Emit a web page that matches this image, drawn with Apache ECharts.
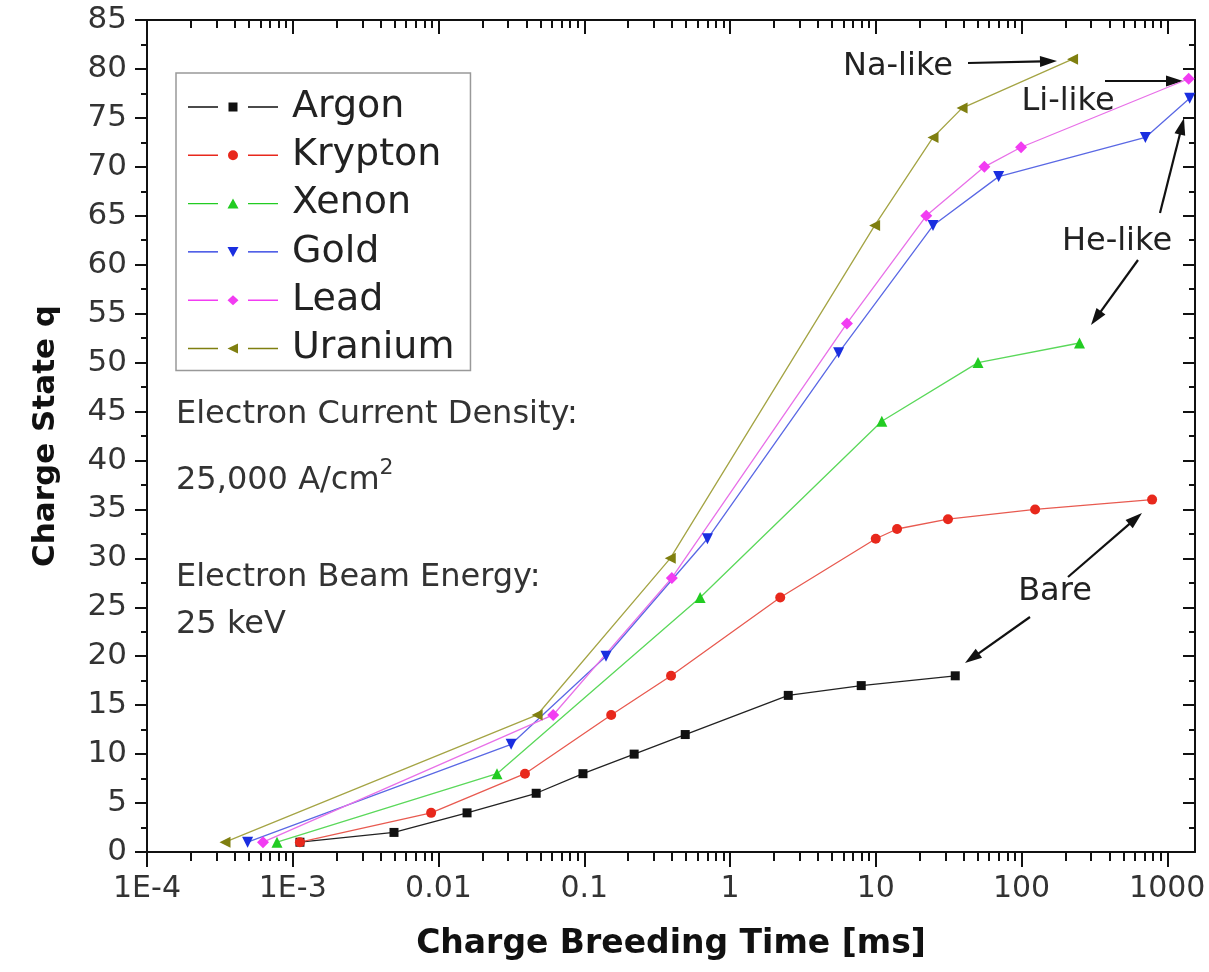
<!DOCTYPE html>
<html><head><meta charset="utf-8">
<script src="https://cdn.jsdelivr.net/npm/echarts@6/dist/echarts.min.js"></script>
<style>html,body{margin:0;padding:0;background:#fff}#c{width:1209px;height:972px}</style>
</head><body><div id="c"></div>
<script>
// ---- data ----
const seriesNames = ['Argon', 'Krypton', 'Xenon', 'Gold', 'Lead', 'Uranium'];

const argonTime   = [0.00112, 0.00495, 0.0157, 0.0468, 0.098, 0.220, 0.493, 2.51, 7.95, 35.1];
const argonCharge = [1, 2, 4, 6, 8, 10, 12, 16, 17, 18];

const kryptonTime   = [0.00112, 0.0089, 0.0392, 0.153, 0.394, 2.21, 10.0, 14.0, 31.3, 124, 787];
const kryptonCharge = [1, 4, 8, 14, 18, 26, 32, 33, 34, 35, 36];

const xenonTime   = [0.00078, 0.0252, 0.624, 11.0, 50.3, 250];
const xenonCharge = [1, 8, 26, 44, 50, 52];

const goldTime   = [0.00049, 0.0315, 0.141, 0.70, 5.56, 24.7, 69.7, 708, 1425];
const goldCharge = [1, 11, 20, 32, 51, 64, 69, 73, 77];

const leadTime   = [0.000625, 0.0612, 0.399, 6.34, 22.2, 55.6, 99.3, 1403];
const leadCharge = [1, 14, 28, 54, 65, 70, 72, 79];

const uraniumTime   = [0.000343, 0.0475, 0.389, 9.82, 24.7, 39.1, 224];
const uraniumCharge = [1, 14, 30, 64, 73, 76, 81];

const xTickValues = [1e-4, 1e-3, 1e-2, 1e-1, 1, 10, 100, 1000];
const xTickLabels = ['1E-4', '1E-3', '0.01', '0.1', '1', '10', '100', '1000'];
const xMin = 1e-4, xMax = 1550;
const yMin = 0, yMax = 85, yStep = 5;

// ---- styling ----
const FONT = 'DejaVu Sans';
const markerColors = ['#111111', '#e8281c', '#22cc22', '#1a2ee0', '#f23cf2', '#7f7f10'];
const lineColors   = ['#222222', '#e85a50', '#5ad85a', '#5a68e4', '#e870e8', '#a4a444'];
const symbols = ['rect', 'circle', 'triangle', 'triangle', 'diamond', 'triangle'];
const symbolRot = [0, 0, 0, 180, 0, 90];
const symbolSizes = [9, 10, 11, 11, 12, 11];
const legendIcons = [
  'path://M0,4.3h30v1.4h-30z M60,4.3h30v1.4h-30z M40.5,0.5h9v9h-9z M45,0h0.01v0.01h-0.01z M45,10h0.01v-0.01h-0.01z',
  'path://M0,4.3h30v1.4h-30z M60,4.3h30v1.4h-30z M40,5a5,5 0 1,0 10,0a5,5 0 1,0 -10,0z',
  'path://M0,4.3h30v1.4h-30z M60,4.3h30v1.4h-30z M45,0L50.5,10L39.5,10z',
  'path://M0,4.3h30v1.4h-30z M60,4.3h30v1.4h-30z M39.5,0L50.5,0L45,10z',
  'path://M0,4.3h30v1.4h-30z M60,4.3h30v1.4h-30z M45,0L50.5,5L45,10L39.5,5z',
  'path://M0,4.3h30v1.4h-30z M60,4.3h30v1.4h-30z M39.5,5L50,0L50,10z'
];

const times = [argonTime, kryptonTime, xenonTime, goldTime, leadTime, uraniumTime];
const charges = [argonCharge, kryptonCharge, xenonCharge, goldCharge, leadCharge, uraniumCharge];

const xMinorTicks = [];
for (let d = -4; d <= 3; d++) {
  for (let k = 2; k <= 9; k++) {
    const v = k * Math.pow(10, d);
    if (v <= xMax) xMinorTicks.push(v);
  }
}

function fmtX(v) {
  const i = xTickValues.findIndex(t => Math.abs(Math.log10(t) - Math.log10(v)) < 1e-6);
  return i >= 0 ? xTickLabels[i] : '';
}

function arrow(x1, y1, x2, y2) {
  const dx = x2 - x1, dy = y2 - y1, L = Math.sqrt(dx * dx + dy * dy);
  const ux = dx / L, uy = dy / L, hl = 17, hw = 5.5;
  const bx = x2 - ux * hl, by = y2 - uy * hl;
  return [
    {type: 'line', shape: {x1: x1, y1: y1, x2: bx + ux * 2, y2: by + uy * 2},
     style: {stroke: '#111', lineWidth: 2.2}},
    {type: 'polygon', shape: {points: [[x2, y2], [bx - uy * hw, by + ux * hw], [bx + uy * hw, by - ux * hw]]},
     style: {fill: '#111'}}
  ];
}

const annoFont = '32px "' + FONT + '"';
const infoFont = '32px "' + FONT + '"';
const graphics = [].concat(
  arrow(968, 63, 1057, 61),
  arrow(1105, 81, 1183, 81),
  arrow(1160, 213, 1184, 118),
  arrow(1138, 260, 1091, 325),
  arrow(1068, 577, 1142, 513),
  arrow(1030, 617, 965, 663),
  [
    {type: 'text', x: 898, y: 67, style: {text: 'Na-like', font: annoFont, fill: '#222', align: 'center', verticalAlign: 'middle'}},
    {type: 'text', x: 1068, y: 102, style: {text: 'Li-like', font: annoFont, fill: '#222', align: 'center', verticalAlign: 'middle'}},
    {type: 'text', x: 1117, y: 242, style: {text: 'He-like', font: annoFont, fill: '#222', align: 'center', verticalAlign: 'middle'}},
    {type: 'text', x: 1055, y: 592, style: {text: 'Bare', font: annoFont, fill: '#222', align: 'center', verticalAlign: 'middle'}},
    {type: 'text', x: 176, y: 415, style: {text: 'Electron Current Density:', font: infoFont, fill: '#333', verticalAlign: 'middle'}},
    {type: 'text', x: 176, y: 477, style: {
      text: '{b|25,000 A/cm}{s|2}', verticalAlign: 'middle',
      rich: {
        b: {fontFamily: FONT, fontSize: 32, fill: '#333', verticalAlign: 'bottom', lineHeight: 40},
        s: {fontFamily: FONT, fontSize: 22, fill: '#333', verticalAlign: 'top', lineHeight: 24}
      }}},
    {type: 'text', x: 176, y: 578, style: {text: 'Electron Beam Energy:', font: infoFont, fill: '#333', verticalAlign: 'middle'}},
    {type: 'text', x: 176, y: 625, style: {text: '25 keV', font: infoFont, fill: '#333', verticalAlign: 'middle'}}
  ]
);

const axisLineStyle = {color: '#111', width: 2};
const tickStyle = {color: '#111', width: 2};

const chart = echarts.init(document.getElementById('c'), null, {renderer: 'canvas'});
chart.setOption({
  animation: false,
  backgroundColor: '#fff',
  grid: {left: 147, right: 14, top: 20, bottom: 120},
  legend: {
    orient: 'vertical', left: 176, top: 73,
    itemWidth: 90, itemHeight: 10, itemGap: 10.3,
    padding: [15, 16, 3, 12],
    borderColor: '#999', borderWidth: 1.5,
    itemStyle: {borderWidth: 0},
    textStyle: {fontFamily: FONT, fontSize: 38, color: '#222', lineHeight: 36, padding: [0, 0, 0, 9]},
    data: seriesNames.map((n, i) => ({name: n, icon: legendIcons[i]}))
  },
  xAxis: [
    {type: 'log', logBase: 10, min: xMin, max: xMax, position: 'bottom',
     axisLine: {show: true, lineStyle: axisLineStyle},
     axisTick: {show: true, customValues: xTickValues, length: 15, lineStyle: tickStyle},
     axisLabel: {show: true, customValues: xTickValues, formatter: fmtX, margin: 22,
                 fontFamily: FONT, fontSize: 30, color: '#333'},
     splitLine: {show: false}, minorTick: {show: false},
     name: 'Charge Breeding Time [ms]', nameLocation: 'middle', nameGap: 76,
     nameTextStyle: {fontFamily: FONT, fontWeight: 'bold', fontSize: 33, color: '#111'}},
    {type: 'log', logBase: 10, min: xMin, max: xMax, position: 'bottom',
     axisLine: {show: false},
     axisTick: {show: true, customValues: xMinorTicks, length: 9, lineStyle: tickStyle},
     axisLabel: {show: false}, splitLine: {show: false}},
    {type: 'log', logBase: 10, min: xMin, max: xMax, position: 'top',
     axisLine: {show: true, lineStyle: axisLineStyle},
     axisTick: {show: true, inside: true, customValues: xTickValues, length: 14, lineStyle: tickStyle},
     axisLabel: {show: false}, splitLine: {show: false}},
    {type: 'log', logBase: 10, min: xMin, max: xMax, position: 'top',
     axisLine: {show: false},
     axisTick: {show: true, inside: true, customValues: xMinorTicks, length: 8, lineStyle: tickStyle},
     axisLabel: {show: false}, splitLine: {show: false}}
  ],
  yAxis: [
    {type: 'value', min: yMin, max: yMax, interval: yStep, position: 'left',
     axisLine: {show: true, lineStyle: axisLineStyle},
     axisTick: {show: true, length: 12, lineStyle: tickStyle},
     minorTick: {show: true, splitNumber: 2, length: 6, lineStyle: tickStyle},
     axisLabel: {margin: 20, fontFamily: FONT, fontSize: 31, color: '#333'},
     splitLine: {show: false},
     name: 'Charge State q', nameLocation: 'middle', nameGap: 86, nameRotate: 90,
     nameTextStyle: {fontFamily: FONT, fontWeight: 'bold', fontSize: 31, color: '#111'}},
    {type: 'value', min: yMin, max: yMax, interval: yStep, position: 'right',
     axisLine: {show: true, lineStyle: axisLineStyle},
     axisTick: {show: true, inside: true, length: 12, lineStyle: tickStyle},
     minorTick: {show: true, splitNumber: 2, length: 6, lineStyle: tickStyle},
     axisLabel: {show: false}, splitLine: {show: false}}
  ],
  series: seriesNames.map((n, i) => ({
    name: n, type: 'line', xAxisIndex: 0, yAxisIndex: 0,
    data: times[i].map((t, j) => [t, charges[i][j]]),
    symbol: symbols[i], symbolSize: symbolSizes[i], symbolRotate: symbolRot[i],
    showAllSymbol: true,
    itemStyle: {color: markerColors[i]},
    lineStyle: {color: lineColors[i], width: 1.3},
    emphasis: {disabled: true}
  })),
  graphic: graphics
});
</script>
</body></html>
